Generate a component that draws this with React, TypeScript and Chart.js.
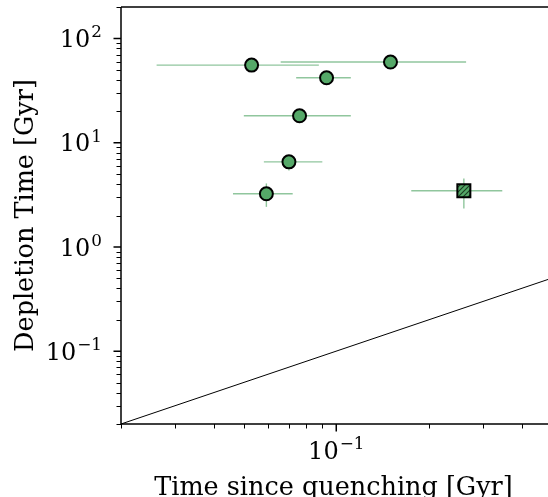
import React, { useEffect, useRef } from 'react';
import { Chart, registerables } from 'chart.js';

Chart.register(...registerables);

// ---- data ----
const circleX = [0.0531, 0.150, 0.0930, 0.0760, 0.0702, 0.0593];
const circleY = [55.4, 59.3, 41.9, 18.1, 6.54, 3.23];
const circleXLow = [0.0261, 0.0660, 0.0741, 0.0501, 0.0582, 0.0462];
const circleXHigh = [0.0878, 0.264, 0.1115, 0.1115, 0.0901, 0.0722];
const circleYLow = [55.4, 59.3, 41.9, 18.1, 5.4, 2.42];
const circleYHigh = [55.4, 59.3, 41.9, 18.1, 7.6, 4.06];

const squareX = [0.2596];
const squareY = [3.45];
const squareXLow = [0.1752];
const squareXHigh = [0.346];
const squareYLow = [2.34];
const squareYHigh = [4.53];

const oneToOneLine = [0.02, 0.49];

const xLimits = [0.02, 0.487];
const yLimits = [0.02, 200];

const xMajorTicks = [0.1];
const xMajorLabels = [['10', '−1']];
const yMajorTicks = [0.1, 1, 10, 100];
const yMajorLabels = [['10', '−1'], ['10', '0'], ['10', '1'], ['10', '2']];

const xTitle = 'Time since quenching [Gyr]';
const yTitle = 'Depletion Time [Gyr]';

const markerGreen = '#55a868';
const errColor = 'rgba(85,168,104,0.65)';
const FONT = '"DejaVu Serif", serif';
const TICK_SIZE = 24;
const TITLE_SIZE = 25.5;

function minorValues(lo: number, hi: number) {
  const out: number[] = [];
  for (let d = -3; d <= 3; d++) {
    for (let m = 2; m <= 9; m++) {
      const v = m * Math.pow(10, d);
      if (v >= lo * 0.9999 && v <= hi * 1.0001) out.push(v);
    }
  }
  return out;
}

function drawSup(ctx: CanvasRenderingContext2D, base: string, exp: string, x: number, baseline: number, align: 'center' | 'right') {
  const mainFont = `${TICK_SIZE}px ${FONT}`;
  const supFont = `${(TICK_SIZE * 0.7).toFixed(1)}px ${FONT}`;
  ctx.font = mainFont;
  const wb = ctx.measureText(base).width;
  ctx.font = supFont;
  const we = ctx.measureText(exp).width;
  const total = wb + we + 1;
  const left = align === 'center' ? x - total / 2 : x - total;
  ctx.textAlign = 'left';
  ctx.textBaseline = 'alphabetic';
  ctx.font = mainFont;
  ctx.fillText(base, left, baseline);
  ctx.font = supFont;
  ctx.fillText(exp, left + wb + 1, baseline - TICK_SIZE * 0.4);
}

const mplPlugin = {
  id: 'mplAxes',
  beforeDatasetsDraw(chart: any) {
    const { ctx, chartArea: a, scales } = chart;
    const x = scales.x;
    const y = scales.y;
    ctx.save();
    ctx.beginPath();
    ctx.rect(a.left, a.top, a.right - a.left, a.bottom - a.top);
    ctx.clip();
    ctx.strokeStyle = errColor;
    ctx.lineWidth = 1.4;
    const bars = (xs: number[], ys: number[], xl: number[], xh: number[], yl: number[], yh: number[]) => {
      for (let i = 0; i < xs.length; i++) {
        const px = x.getPixelForValue(xs[i]);
        const py = y.getPixelForValue(ys[i]);
        ctx.beginPath();
        ctx.moveTo(x.getPixelForValue(xl[i]), py);
        ctx.lineTo(x.getPixelForValue(xh[i]), py);
        ctx.stroke();
        if (yl[i] !== yh[i]) {
          ctx.beginPath();
          ctx.moveTo(px, y.getPixelForValue(yl[i]));
          ctx.lineTo(px, y.getPixelForValue(yh[i]));
          ctx.stroke();
        }
      }
    };
    bars(circleX, circleY, circleXLow, circleXHigh, circleYLow, circleYHigh);
    bars(squareX, squareY, squareXLow, squareXHigh, squareYLow, squareYHigh);
    ctx.restore();
  },
  afterDraw(chart: any) {
    const { ctx, chartArea: a, scales } = chart;
    const x = scales.x;
    const y = scales.y;
    ctx.save();
    ctx.strokeStyle = '#000';
    ctx.fillStyle = '#000';
    // spines
    ctx.lineWidth = 1.5;
    ctx.beginPath();
    ctx.moveTo(a.left, a.top);
    ctx.lineTo(a.right + 2, a.top);
    ctx.moveTo(a.left, a.top);
    ctx.lineTo(a.left, a.bottom);
    ctx.lineTo(a.right + 2, a.bottom);
    ctx.stroke();
    // minor ticks
    ctx.lineWidth = 1;
    ctx.beginPath();
    for (const v of minorValues(xLimits[0], xLimits[1])) {
      const px = Math.round(x.getPixelForValue(v)) + 0.5;
      ctx.moveTo(px, a.bottom);
      ctx.lineTo(px, a.bottom + 4.5);
    }
    for (const v of minorValues(yLimits[0], yLimits[1])) {
      const py = Math.round(y.getPixelForValue(v)) + 0.5;
      ctx.moveTo(a.left, py);
      ctx.lineTo(a.left - 4.5, py);
    }
    ctx.stroke();
    // major ticks
    ctx.lineWidth = 1.5;
    ctx.beginPath();
    xMajorTicks.forEach((v) => {
      const px = x.getPixelForValue(v);
      ctx.moveTo(px, a.bottom);
      ctx.lineTo(px, a.bottom + 7.5);
    });
    yMajorTicks.forEach((v) => {
      const py = y.getPixelForValue(v);
      ctx.moveTo(a.left, py);
      ctx.lineTo(a.left - 7.5, py);
    });
    ctx.stroke();
    // tick labels
    xMajorTicks.forEach((v, i) => {
      const px = x.getPixelForValue(v);
      drawSup(ctx, xMajorLabels[i][0], xMajorLabels[i][1], px, a.bottom + 35, 'center');
    });
    yMajorTicks.forEach((v, i) => {
      const py = y.getPixelForValue(v);
      drawSup(ctx, yMajorLabels[i][0], yMajorLabels[i][1], a.left - 19, py + 8.7, 'right');
    });
    // axis titles
    ctx.font = `${TITLE_SIZE}px ${FONT}`;
    ctx.textAlign = 'center';
    ctx.textBaseline = 'alphabetic';
    ctx.fillText(xTitle, (a.left + a.right) / 2 - 1, a.bottom + 71);
    ctx.save();
    ctx.translate(33, (a.top + a.bottom) / 2);
    ctx.rotate(-Math.PI / 2);
    ctx.fillText(yTitle, 0, 0);
    ctx.restore();
    ctx.restore();
  },
};

function makeHatch(): CanvasPattern | string {
  const c = document.createElement('canvas');
  c.width = 5;
  c.height = 5;
  const g = c.getContext('2d');
  if (!g) return markerGreen;
  g.fillStyle = markerGreen;
  g.fillRect(0, 0, 5, 5);
  g.strokeStyle = '#1b3b22';
  g.lineWidth = 1.1;
  g.beginPath();
  g.moveTo(-1, 6);
  g.lineTo(6, -1);
  g.moveTo(-1, 1);
  g.lineTo(1, -1);
  g.moveTo(4, 6);
  g.lineTo(6, 4);
  g.stroke();
  const p = g.createPattern(c, 'repeat');
  return p || markerGreen;
}

export default function App() {
  const ref = useRef<HTMLCanvasElement | null>(null);
  useEffect(() => {
    if (!ref.current) return;
    const hatch = makeHatch();
    const chart = new Chart(ref.current, {
      type: 'scatter',
      data: {
        datasets: [
          {
            type: 'line',
            data: oneToOneLine.map((v) => ({ x: v, y: v })),
            borderColor: '#000',
            borderWidth: 1,
            pointRadius: 0,
            fill: false,
            order: 3,
          } as any,
          {
            data: circleX.map((v, i) => ({ x: v, y: circleY[i] })),
            backgroundColor: markerGreen,
            borderColor: '#000',
            borderWidth: 2,
            pointRadius: 6.5,
            pointStyle: 'circle',
            order: 2,
          },
          {
            data: squareX.map((v, i) => ({ x: v, y: squareY[i] })),
            backgroundColor: hatch as any,
            borderColor: '#000',
            borderWidth: 2,
            pointRadius: 9.2,
            pointStyle: 'rect',
            order: 1,
          },
        ],
      },
      options: {
        responsive: false,
        animation: false,
        events: [],
        layout: { autoPadding: false, padding: { left: 121, top: 7, right: 0, bottom: 73 } },
        plugins: { legend: { display: false }, tooltip: { enabled: false } },
        scales: {
          x: { type: 'logarithmic', min: xLimits[0], max: xLimits[1], bounds: 'data', display: false },
          y: { type: 'logarithmic', min: yLimits[0], max: yLimits[1], bounds: 'data', display: false },
        },
      },
      plugins: [mplPlugin],
    });
    return () => chart.destroy();
  }, []);
  return (
    <div style={{ position: 'absolute', left: 0, top: 0, width: 548, height: 497, background: '#fff', overflow: 'hidden' }}>
      <canvas ref={ref} width={548} height={497} />
    </div>
  );
}
